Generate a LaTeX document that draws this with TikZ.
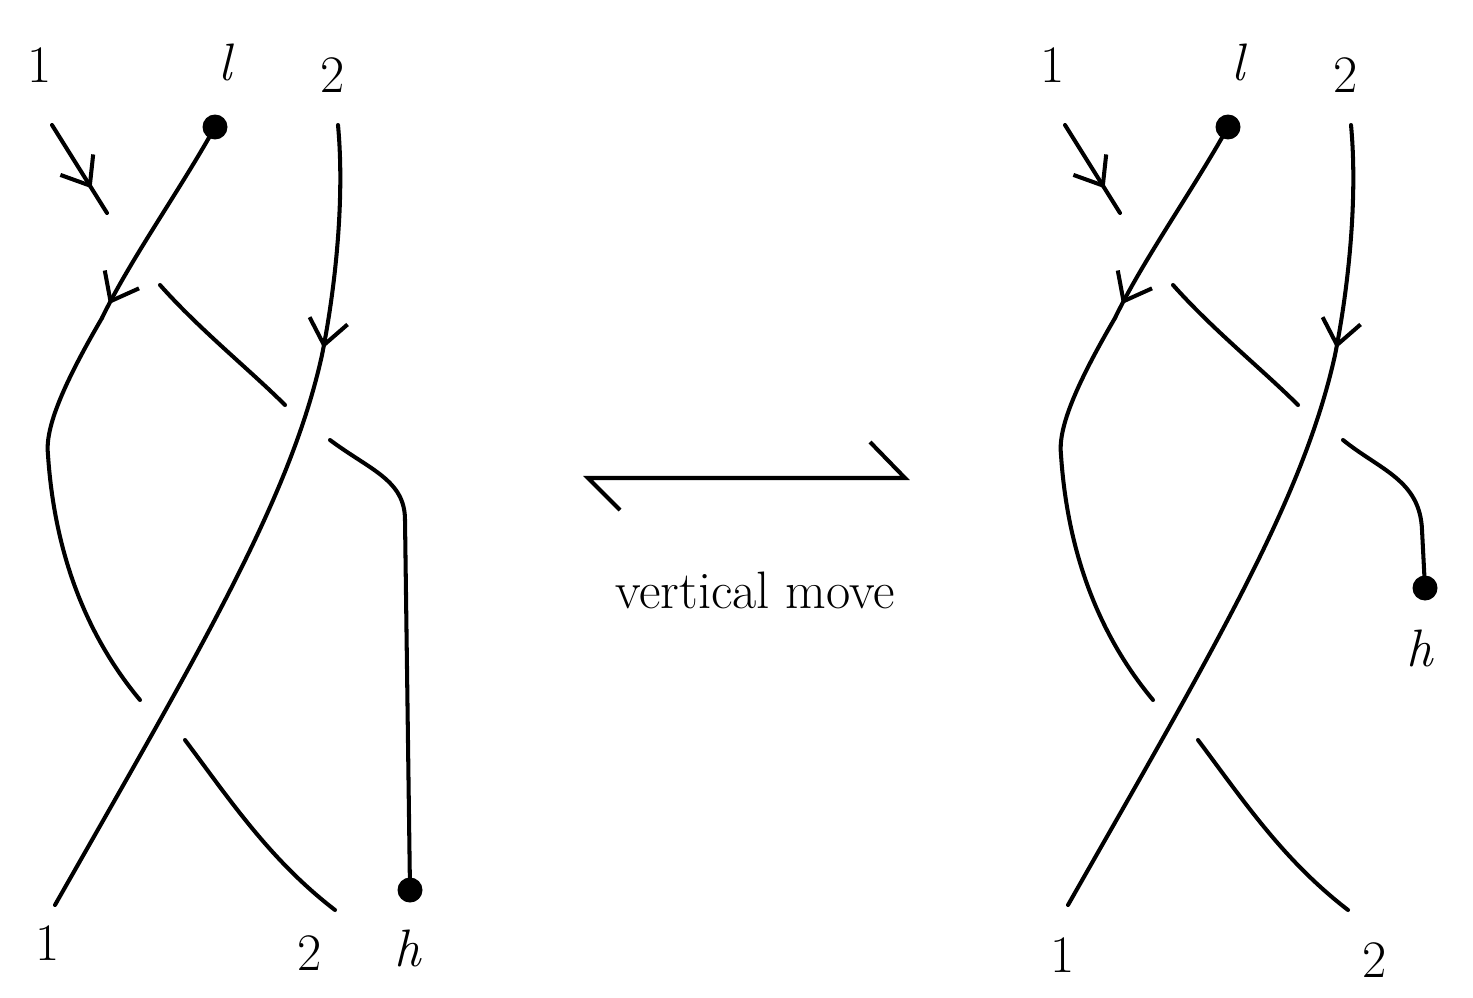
\documentclass[tikz,border=0pt]{standalone}
\usetikzlibrary{arrows.meta,decorations.markings}
\begin{document}
\begin{tikzpicture}[x=0.02cm,y=-0.02cm,
  strand/.style={line width=2.3pt,line cap=round},
  lbl/.style={font=\fontsize{30}{30}\selectfont,inner sep=0pt},
  dotb/.style={circle,fill=black,inner sep=0pt,minimum size=0.5cm},
  midarrow/.style={postaction={decorate},decoration={markings,mark=at position #1 with {\arrow[line width=2.3pt]{Straight Barb[length=14pt,width=22pt]}}}}]
\useasboundingbox (0,0) rectangle (1473,997);
\foreach \dx/\s in {0/L,1013/R}{
\begin{scope}[xshift=\dx*0.02cm]
\draw[strand,midarrow=0.72] (52,125) -- (107,213);
\draw[strand] (160,285) .. controls (200,330) and (250,370) .. (285,405);
\draw[strand,midarrow=0.93] (215,127) .. controls (180,190) and (130,260) .. (102,318);
\draw[strand] (102,318) .. controls (60,390) and (45,430) .. (48,455) .. controls (55,560) and (90,640) .. (140,700);
\draw[strand] (185,740) .. controls (230,800) and (270,860) .. (335,910);
\draw[strand,midarrow=0.97] (338,125) .. controls (345,200) and (335,290) .. (322,355);
\draw[strand] (322,355) .. controls (290,500) and (200,650) .. (55,905);
\node[dotb] (dl\s) at (215,127) {};
\node[lbl] (t1\s) at (40,65) {1};
\node[lbl] (tl\s) at (225,62) {\itshape l};
\node[lbl] (t2\s) at (333,75) {2};
\end{scope}}
\node[lbl] (b1L) at (48,943) {1};
\node[lbl] (b2L) at (310,953) {2};
\node[lbl] (hL) at (408,948) {\itshape h};
\node[dotb] (dhL) at (410,890) {};
\draw[strand] (330,440) .. controls (370,470) and (405,480) .. (405,520) -- (dhL.center);
\node[lbl] (b1R) at (1063,955) {1};
\node[lbl] (b2R) at (1375,960) {2};
\node[lbl] (hR) at (1420,648) {\itshape h};
\node[dotb] (dhR) at (1425,588) {};
\draw[strand] (1343,440) .. controls (1380,470) and (1420,480) .. (1422,530) -- (dhR.center);
\coordinate (ha) at (588,478);
\coordinate (hb) at (905,478);
\draw[strand,line cap=butt] (620,510) -- (ha) -- (hb) -- (870,442);
\node[lbl] (vm) at (755,590) {vertical move};
\end{tikzpicture}
\end{document}
